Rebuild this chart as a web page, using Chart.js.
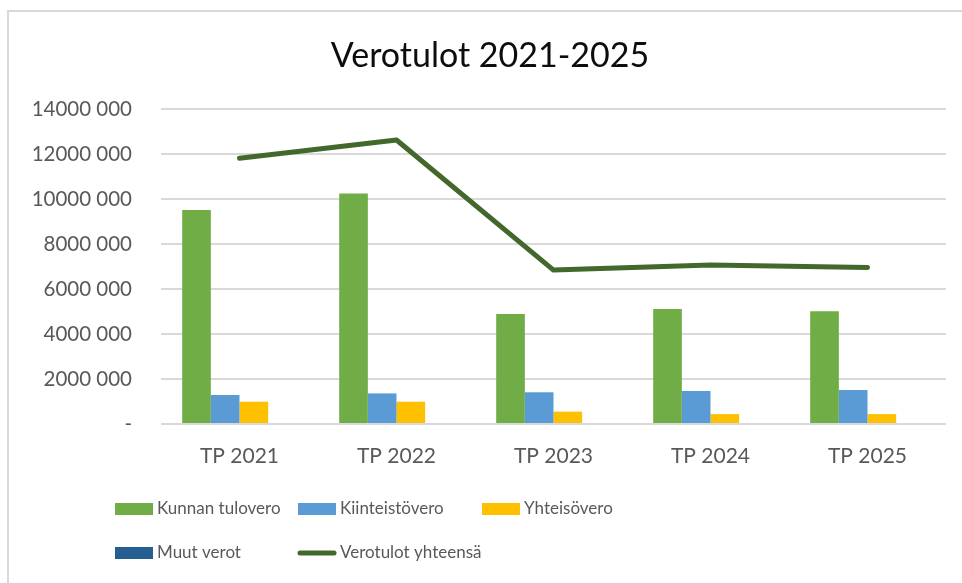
<!DOCTYPE html>
<html lang="fi">
<head>
<meta charset="UTF-8">
<title>Verotulot 2021-2025</title>
<script src="https://cdn.jsdelivr.net/npm/chart.js"></script>
<style>
  body { margin: 0; background: #fff; }
  canvas { display: block; }
</style>
</head>
<body>
<canvas id="veroChart" width="962" height="583"></canvas>
<script>
// data
const categories = ['TP 2021', 'TP 2022', 'TP 2023', 'TP 2024', 'TP 2025'];
const kunnanTulovero = [9510000, 10250000, 4890000, 5110000, 5010000];
const kiinteistovero = [1290000, 1360000, 1410000, 1470000, 1510000];
const yhteisovero = [990000, 990000, 550000, 440000, 440000];
const muutVerot = [0, 0, 0, 0, 0];
const verotulotYhteensa = [11810000, 12620000, 6840000, 7070000, 6960000];
const yTicks = [0, 2000000, 4000000, 6000000, 8000000, 10000000, 12000000, 14000000];

const FONT = 'Lato, "Liberation Sans", sans-serif';
const GREY = '#595959';

function fmt(v) {
  if (v === 0) return '-';
  return Math.floor(v / 1000) + ' 000';
}

// frame + title + legend drawn on the canvas
const decor = {
  id: 'decor',
  beforeDraw(chart) {
    const c = chart.ctx;
    c.save();
    c.fillStyle = '#fff';
    c.fillRect(0, 0, chart.width, chart.height);
    c.strokeStyle = '#d9d9d9';
    c.lineWidth = 2;
    c.strokeRect(8, 11, chart.width + 10, chart.height + 10);
    c.restore();
  },
  afterDraw(chart) {
    const c = chart.ctx;
    c.save();
    c.fillStyle = '#0d0d0d';
    c.font = '34px ' + FONT;
    c.textAlign = 'center';
    c.textBaseline = 'middle';
    c.fillText('Verotulot 2021-2025', 490, 56);

    // legend, 3 columns
    const cols = [115, 298, 482];
    const rows = [509, 553];
    c.font = '17px ' + FONT;
    c.textAlign = 'left';
    chart.data.datasets.slice().sort((a, b) => a.legendPos - b.legendPos).forEach((ds, i) => {
      const x = cols[i % 3];
      const y = rows[Math.floor(i / 3)];
      if (ds.type === 'line') {
        c.strokeStyle = ds.borderColor;
        c.lineWidth = 5;
        c.lineCap = 'round';
        c.beginPath();
        c.moveTo(x + 2, y);
        c.lineTo(x + 36, y);
        c.stroke();
      } else {
        c.fillStyle = ds.backgroundColor;
        c.fillRect(x, y - 6, 38, 12);
      }
      c.fillStyle = GREY;
      c.fillText(ds.label, x + 42, y);
    });
    c.restore();
  }
};

new Chart(document.getElementById('veroChart'), {
  type: 'bar',
  data: {
    labels: categories,
    datasets: [
      { type: 'line', label: 'Verotulot yhteensä', data: verotulotYhteensa, legendPos: 4,
        borderColor: '#43682b', borderWidth: 5, borderCapStyle: 'round', borderJoinStyle: 'round',
        pointRadius: 0, fill: false, tension: 0 },
      { label: 'Kunnan tulovero', data: kunnanTulovero, backgroundColor: '#70ad47', legendPos: 0 },
      { label: 'Kiinteistövero', data: kiinteistovero, backgroundColor: '#5b9bd5', legendPos: 1 },
      { label: 'Yhteisövero', data: yhteisovero, backgroundColor: '#ffc000', legendPos: 2 },
      { label: 'Muut verot', data: muutVerot, backgroundColor: '#255e91', legendPos: 3 }
    ]
  },
  options: {
    responsive: false,
    animation: false,
    categoryPercentage: 0.73,
    barPercentage: 1.0,
    layout: { padding: { top: 109, right: 16, left: 0, bottom: 0 } },
    plugins: {
      legend: { display: false },
      title: { display: false },
      tooltip: { enabled: false }
    },
    scales: {
      x: {
        grid: { display: false },
        border: { display: false },
        ticks: { color: GREY, font: { family: FONT, size: 21 }, padding: 12, maxRotation: 0 },
        afterFit: s => { s.height = 159; }
      },
      y: {
        min: 0,
        max: 14000000,
        afterBuildTicks: s => { s.ticks = yTicks.map(v => ({ value: v })); },
        grid: { color: '#d9d9d9', lineWidth: 2, drawTicks: false },
        border: { display: false },
        ticks: { color: GREY, font: { family: FONT, size: 20.5 }, padding: 29, callback: v => fmt(v) },
        afterFit: s => { s.width = 161; }
      }
    }
  },
  plugins: [decor]
});
</script>
</body>
</html>
